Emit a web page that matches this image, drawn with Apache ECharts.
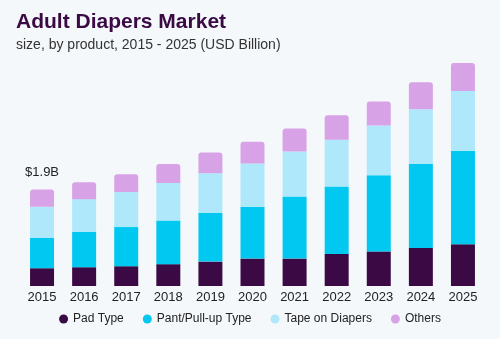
<!DOCTYPE html>
<html><head><meta charset="utf-8">
<script src="https://cdn.jsdelivr.net/npm/echarts@6/dist/echarts.min.js"></script>
<style>html,body{margin:0;padding:0;background:#f4f8fb;}#c{width:500px;height:339px;}</style>
</head><body><div id="c"></div>
<script>
const years = ['2015','2016','2017','2018','2019','2020','2021','2022','2023','2024','2025'];
const padType = [0.35,0.37,0.39,0.43,0.48,0.54,0.54,0.63,0.68,0.75,0.82];
const pantType = [0.60,0.70,0.77,0.86,0.96,1.02,1.22,1.33,1.50,1.65,1.84];
const tapeType = [0.61,0.64,0.69,0.74,0.78,0.85,0.89,0.92,0.98,1.08,1.18];
const others = [0.34,0.33,0.35,0.37,0.41,0.43,0.45,0.48,0.47,0.53,0.55];
const seriesNames = ['Pad Type','Pant/Pull-up Type','Tape on Diapers','Others'];
const colors = ['#3b0a45','#00c8f0','#aee8fa','#d8a2e6'];
const firstLabel = '$1.9B';

const chart = echarts.init(document.getElementById('c'));
const F = '"Liberation Sans", Arial, sans-serif';
const datas = [padType, pantType, tapeType, others];
const series = datas.map((d, i) => ({
  name: seriesNames[i], type: 'bar', stack: 'total', barWidth: '57%',
  itemStyle: { color: colors[i], borderRadius: i === 3 ? [3,3,0,0] : 0 },
  data: d.map((v, j) => (i === 3 && j === 0) ? {
    value: v,
    label: { show: true, position: 'top', distance: 11, formatter: firstLabel,
             color: '#222', fontSize: 13, fontFamily: F }
  } : v)
}));
chart.setOption({
  backgroundColor: '#f4f8fb',
  animation: false,
  title: [
    { text: 'Adult Diapers Market', left: 11, top: 7,
      textStyle: { color: '#3b0a45', fontSize: 21, fontWeight: 900, fontFamily: F } },
    { text: 'size, by product, 2015 - 2025 (USD Billion)', left: 11, top: 33,
      textStyle: { color: '#333', fontSize: 14, fontWeight: 'normal', fontFamily: F } }
  ],
  legend: {
    bottom: 9, left: 'center', icon: 'circle', itemWidth: 9, itemHeight: 9, itemGap: 19,
    textStyle: { color: '#222', fontSize: 12, fontFamily: F },
    data: seriesNames
  },
  grid: { left: 21, right: 16, top: 32, bottom: 53 },
  xAxis: {
    type: 'category', data: years,
    axisLine: { show: false }, axisTick: { show: false },
    axisLabel: { color: '#222', fontSize: 13, fontFamily: F, margin: 5 }
  },
  yAxis: { type: 'value', min: 0, max: 5, show: false, splitLine: { show: false } },
  series: series
});
</script></body></html>
